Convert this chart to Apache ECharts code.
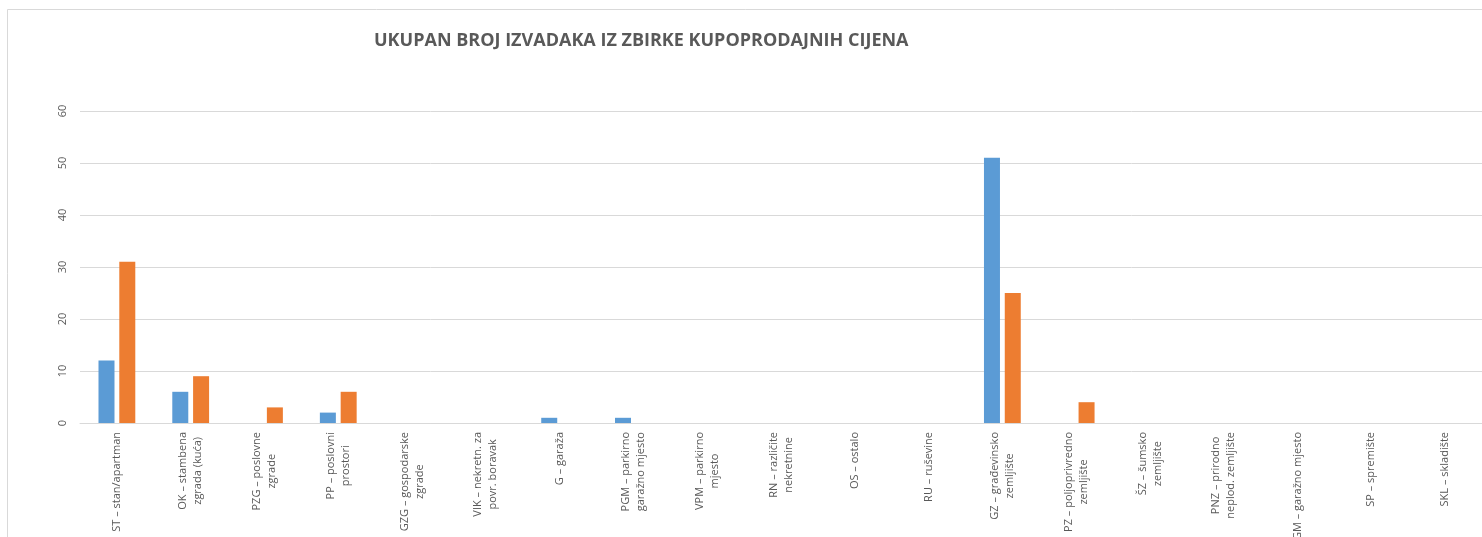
<!DOCTYPE html>
<html>
<head>
<meta charset="utf-8">
<script src="https://cdn.jsdelivr.net/npm/echarts@6/dist/echarts.min.js"></script>
<style>
  html, body { margin: 0; padding: 0; background: #ffffff; }
  #chart { width: 1482px; height: 537px; }
</style>
</head>
<body>
<div id="chart"></div>
<script>
// Property types (category labels, wrapped as shown under the axis)
const categories = [
  'ST – stan/apartman',
  'OK – stambena\nzgrada (kuća)',
  'PZG – poslovne\nzgrade',
  'PP – poslovni\nprostori',
  'GZG – gospodarske\nzgrade',
  'VIK – nekretn. za\npovr. boravak',
  'G – garaža',
  'PGM – parkirno\ngaražno mjesto',
  'VPM – parkirno\nmjesto',
  'RN – različite\nnekretnine',
  'OS – ostalo',
  'RU – ruševine',
  'GZ – građevinsko\nzemljište',
  'PZ – poljoprivredno\nzemljište',
  'ŠZ – šumsko\nzemljište',
  'PNZ – prirodno\nneplod. zemljište',
  'GM – garažno mjesto',
  'SP – spremište',
  'SKL – skladište'
];

// Counts per property type
const seriesBlue = [12, 6, 0, 2, 0, 0, 1, 1, 0, 0, 0, 0, 51, 0, 0, 0, 0, 0, 0];
const seriesOrange = [31, 9, 3, 6, 0, 0, 0, 0, 0, 0, 0, 0, 25, 4, 0, 0, 0, 0, 0];

// Value axis ticks
const yMin = 0;
const yMax = 60;
const yStep = 10;

const FONT = 'Open Sans';
const GREY = '#595959';
const GRID_LINE = '#d9d9d9';

const chart = echarts.init(document.getElementById('chart'), null, { renderer: 'canvas' });

chart.setOption({
  animation: false,
  backgroundColor: '#ffffff',
  title: {
    text: 'UKUPAN BROJ IZVADAKA IZ ZBIRKE KUPOPRODAJNIH CIJENA',
    left: 369,
    top: 27,
    textStyle: {
      fontFamily: FONT,
      fontSize: 18,
      fontWeight: 'bold',
      color: GREY
    }
  },
  graphic: [{
    type: 'rect',
    silent: true,
    z: -10,
    shape: { x: 7.5, y: 9.5, width: 1600, height: 700 },
    style: { fill: 'none', stroke: GRID_LINE, lineWidth: 1 }
  }],
  grid: {
    left: 80,
    right: 0,
    top: 111,
    bottom: 114,
    containLabel: false,
    outerBoundsMode: 'none'
  },
  xAxis: {
    type: 'category',
    data: categories,
    axisLine: { show: true, lineStyle: { color: GRID_LINE, width: 1 } },
    axisTick: { show: false },
    axisLabel: {
      interval: 0,
      rotate: 90,
      margin: 9,
      color: GREY,
      fontFamily: FONT,
      fontSize: 11,
      lineHeight: 15,
      formatter: function (v) {
        return v.split('\n').map(function (s) { return '{c|' + s + '}'; }).join('\n');
      },
      rich: {
        c: {
          align: 'center',
          color: GREY,
          fontFamily: FONT,
          fontSize: 11,
          lineHeight: 15
        }
      }
    }
  },
  yAxis: {
    type: 'value',
    min: yMin,
    max: yMax,
    interval: yStep,
    axisLine: { show: false },
    axisTick: { show: false },
    splitLine: { lineStyle: { color: GRID_LINE, width: 1 } },
    axisLabel: {
      rotate: 90,
      margin: 12,
      color: GREY,
      fontFamily: FONT,
      fontSize: 11
    }
  },
  series: [
    {
      name: 'A',
      type: 'bar',
      data: seriesBlue,
      barWidth: 16,
      barGap: '30%',
      itemStyle: { color: '#5b9bd5' }
    },
    {
      name: 'B',
      type: 'bar',
      data: seriesOrange,
      barWidth: 16,
      barGap: '30%',
      itemStyle: { color: '#ed7d31' }
    }
  ]
});
</script>
</body>
</html>
